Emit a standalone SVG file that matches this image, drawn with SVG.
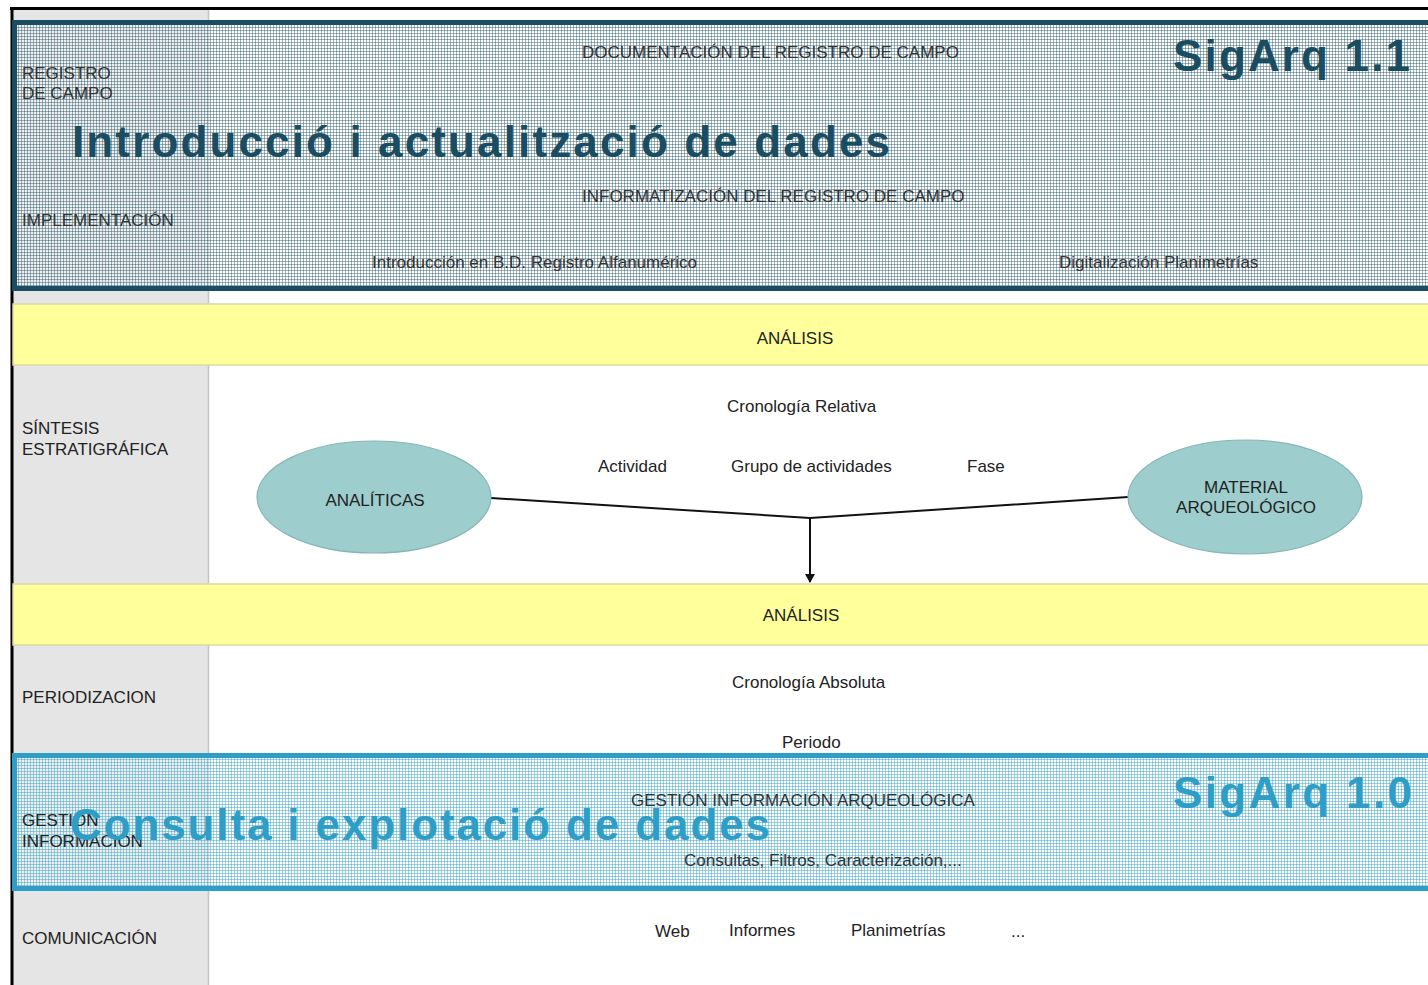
<svg xmlns="http://www.w3.org/2000/svg" width="1428" height="985" viewBox="0 0 1428 985">
<style>
.lbl{font-family:"Liberation Sans",Arial,sans-serif;font-size:17px;fill:#222}
.bx{font-family:"Liberation Sans",Arial,sans-serif;font-size:17px;fill:#333}
.mid{text-anchor:middle}
.ttl{font-family:"Liberation Sans",Arial,sans-serif;font-weight:bold;font-size:44px}
.band{fill:#ffff9c;stroke:#d9d9a6;stroke-width:1.5}
.ell{fill:#9dcdcd;stroke:#86b5b5;stroke-width:1.2}
.con{fill:none;stroke:#111;stroke-width:2}
</style>
<defs>
<pattern id="gTop" width="3" height="3" patternUnits="userSpaceOnUse">
<rect width="3" height="3" fill="#ffffff" fill-opacity="0.4"/>
<path d="M0 0.5H3M0.5 0V3" stroke="#1a4d61" stroke-opacity="0.42" stroke-width="1"/>
</pattern>
<pattern id="gBot" width="3" height="3" patternUnits="userSpaceOnUse">
<rect width="3" height="3" fill="#ffffff" fill-opacity="0.4"/>
<path d="M0 0.5H3M0.5 0V3" stroke="#2e9ec7" stroke-opacity="0.45" stroke-width="1"/>
</pattern>
<marker id="arr" markerWidth="10" markerHeight="10" refX="8" refY="5" orient="auto" markerUnits="userSpaceOnUse">
<path d="M0 0L9 5L0 10Z" fill="#111"/>
</marker>
</defs>

<g id="background">
<rect x="0" y="0" width="1428" height="985" fill="#ffffff"/>
<rect x="13" y="10" width="195" height="975" fill="#e5e5e5"/>
<line x1="208.5" y1="10" x2="208.5" y2="985" stroke="#c4c4c4" stroke-width="1.5"/>
<line x1="10" y1="8.5" x2="1428" y2="8.5" stroke="#000" stroke-width="3"/>
<line x1="12" y1="8" x2="12" y2="985" stroke="#000" stroke-width="3"/>
</g>

<g id="row-analisis-1">
<rect class="band" x="13" y="304" width="1420" height="61"/>
<text class="lbl mid" x="795" y="344" font-size="18">ANÁLISIS</text>
</g>

<g id="row-sintesis">
<text class="lbl" x="22" y="434">SÍNTESIS</text>
<text class="lbl" x="22" y="455">ESTRATIGRÁFICA</text>
<text class="lbl" x="727" y="412">Cronología Relativa</text>
<text class="lbl" x="598" y="472">Actividad</text>
<text class="lbl" x="731" y="472">Grupo de actividades</text>
<text class="lbl" x="967" y="472">Fase</text>
</g>

<g id="connectors">
<polyline class="con" points="491,498 810,518 1128,497"/>
<line class="con" x1="810" y1="518" x2="810" y2="582" marker-end="url(#arr)"/>
</g>

<g id="node-analiticas">
<ellipse class="ell" cx="374" cy="497" rx="117" ry="56"/>
<text class="lbl mid" x="375" y="506">ANALÍTICAS</text>
</g>

<g id="node-material">
<ellipse class="ell" cx="1245" cy="497" rx="117" ry="57"/>
<text class="lbl mid" x="1246" y="493">MATERIAL</text>
<text class="lbl mid" x="1246" y="513">ARQUEOLÓGICO</text>
</g>

<g id="row-analisis-2">
<rect class="band" x="13" y="584" width="1420" height="61"/>
<text class="lbl mid" x="801" y="621" font-size="18">ANÁLISIS</text>
</g>

<g id="row-periodizacion">
<text class="lbl" x="22" y="703">PERIODIZACION</text>
<text class="lbl" x="732" y="688">Cronología Absoluta</text>
<text class="lbl" x="782" y="748">Periodo</text>
</g>

<g id="row-comunicacion">
<text class="lbl" x="22" y="944">COMUNICACIÓN</text>
<text class="lbl" x="655" y="937">Web</text>
<text class="lbl" x="729" y="936">Informes</text>
<text class="lbl" x="851" y="936">Planimetrías</text>
<text class="lbl" x="1011" y="937">...</text>
</g>

<g id="box-sigarq-1-1">
<rect x="14.5" y="22.5" width="1430" height="266" fill="url(#gTop)" stroke="#1a4d61" stroke-width="5"/>
<text class="bx" x="22" y="79">REGISTRO</text>
<text class="bx" x="22" y="99">DE CAMPO</text>
<text class="bx" x="22" y="226">IMPLEMENTACIÓN</text>
<text class="bx" x="582" y="58">DOCUMENTACIÓN DEL REGISTRO DE CAMPO</text>
<text class="bx" x="582" y="202">INFORMATIZACIÓN DEL REGISTRO DE CAMPO</text>
<text class="bx" x="372" y="268">Introducción en B.D. Registro Alfanumérico</text>
<text class="bx" x="1059" y="268">Digitalización Planimetrías</text>
<text class="ttl" x="72" y="157" fill="#1a4d61" textLength="818" lengthAdjust="spacing">Introducció i actualització de dades</text>
<text class="ttl" x="1173" y="71" fill="#1a4d61" textLength="237" lengthAdjust="spacing">SigArq 1.1</text>
</g>

<g id="box-sigarq-1-0">
<rect x="14.5" y="755.5" width="1430" height="133" fill="url(#gBot)" stroke="#2e9ec7" stroke-width="5"/>
<text class="lbl" x="22" y="826">GESTIÓN</text>
<text class="lbl" x="22" y="847">INFORMACIÓN</text>
<text class="bx" x="631" y="806">GESTIÓN INFORMACIÓN ARQUEOLÓGICA</text>
<text class="bx" x="684" y="866">Consultas, Filtros, Caracterización,...</text>
<text class="ttl" x="70" y="840" fill="#2e9ec7" textLength="700" lengthAdjust="spacing">Consulta i explotació de dades</text>
<text class="ttl" x="1173" y="808" fill="#2e9ec7" textLength="239" lengthAdjust="spacing">SigArq 1.0</text>
</g>
</svg>
